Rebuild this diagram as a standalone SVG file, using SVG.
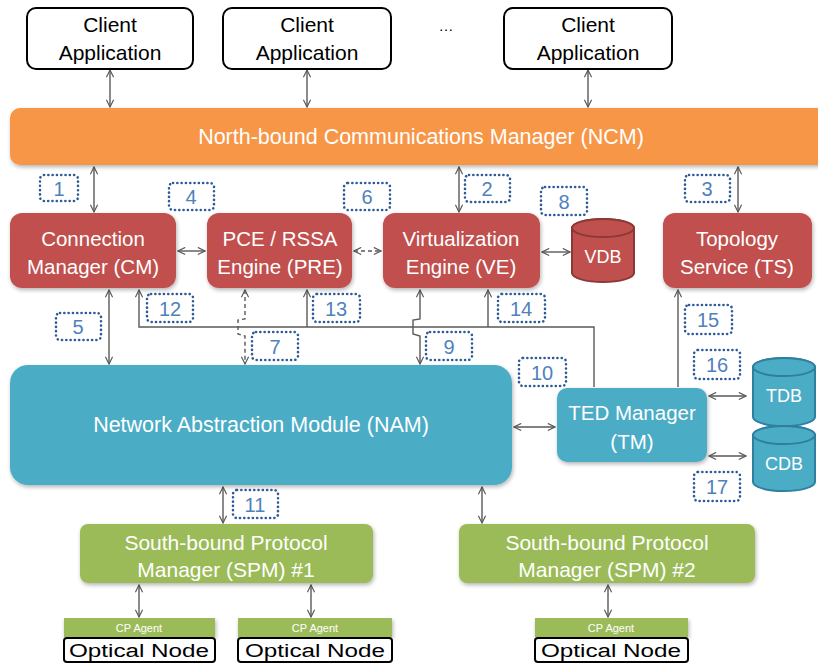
<svg xmlns="http://www.w3.org/2000/svg" width="818" height="664" viewBox="0 0 818 664">
<defs>
<marker id="ah" viewBox="0 0 10 10" refX="9" refY="5" markerWidth="9" markerHeight="9" markerUnits="userSpaceOnUse" orient="auto-start-reverse">
<path d="M1,1 L9,5 L1,9" fill="none" stroke="#595959" stroke-width="1.3"/>
</marker>
<filter id="sh" x="-10%" y="-10%" width="120%" height="130%">
<feGaussianBlur in="SourceAlpha" stdDeviation="2"/>
<feOffset dx="1" dy="2"/>
<feComponentTransfer><feFuncA type="linear" slope="0.3"/></feComponentTransfer>
<feMerge><feMergeNode/><feMergeNode in="SourceGraphic"/></feMerge>
</filter>
</defs>
<style>
text{font-family:"Liberation Sans",Arial,sans-serif;text-anchor:middle;}
.client{fill:#fff;stroke:#000;stroke-width:2;}
.ct{fill:#000;font-size:21px;}
.wt{fill:#fff;font-size:20.5px;}
.red{fill:#C0504D;filter:url(#sh);}
.blue{fill:#4BACC6;filter:url(#sh);}
.green{fill:#9BBB59;filter:url(#sh);}
.orange{fill:#F79646;filter:url(#sh);}
.lbl{fill:none;stroke:#2E5C9A;stroke-width:2.6;stroke-dasharray:0.1 4.2;stroke-linecap:round;}
.lt{fill:#4F81BD;font-size:20px;}
.c{fill:none;stroke:#595959;stroke-width:1.4;}
.cd{fill:none;stroke:#595959;stroke-width:1.4;stroke-dasharray:4 3;}
.cyl-r{fill:#C0504D;stroke:#8C3836;stroke-width:2;}
.cyl-b{fill:#4BACC6;stroke:#2F7FA0;stroke-width:2;}
.opt{fill:#fff;stroke:#000;stroke-width:2;}
.ot{fill:#000;font-size:18px;}
.cp{fill:#fff;font-size:11px;}
</style>

<g id="connectors">
<line class="c" x1="110" y1="70" x2="110" y2="107" marker-start="url(#ah)" marker-end="url(#ah)"/>
<line class="c" x1="307" y1="70" x2="307" y2="107" marker-start="url(#ah)" marker-end="url(#ah)"/>
<line class="c" x1="588" y1="70" x2="588" y2="107" marker-start="url(#ah)" marker-end="url(#ah)"/>
<line class="c" x1="94" y1="167" x2="94" y2="212" marker-start="url(#ah)" marker-end="url(#ah)"/>
<line class="c" x1="459" y1="167" x2="459" y2="212" marker-start="url(#ah)" marker-end="url(#ah)"/>
<line class="c" x1="738" y1="167" x2="738" y2="212" marker-start="url(#ah)" marker-end="url(#ah)"/>
<line class="c" x1="178" y1="251" x2="205" y2="251" marker-start="url(#ah)" marker-end="url(#ah)"/>
<line class="cd" x1="354" y1="251" x2="381" y2="251" marker-start="url(#ah)" marker-end="url(#ah)"/>
<line class="c" x1="542" y1="252" x2="570" y2="252" marker-start="url(#ah)" marker-end="url(#ah)"/>
<line class="c" x1="109" y1="290" x2="109" y2="364" marker-start="url(#ah)" marker-end="url(#ah)"/>
<polyline class="c" points="139,290 139,327 594,327 594,387" marker-start="url(#ah)"/>
<line class="c" x1="307" y1="327" x2="307" y2="290" marker-end="url(#ah)"/>
<line class="c" x1="488" y1="327" x2="488" y2="290" marker-end="url(#ah)"/>
<line class="c" x1="678" y1="387" x2="678" y2="290" marker-end="url(#ah)"/>
<polyline class="cd" points="245,290 245,319 238,320 238,334 245,336 245,364" marker-start="url(#ah)" marker-end="url(#ah)"/>
<polyline class="c" points="420,290 420,319 413,320 413,334 420,336 420,364" marker-start="url(#ah)" marker-end="url(#ah)"/>
<line class="c" x1="514" y1="427" x2="555" y2="427" marker-start="url(#ah)" marker-end="url(#ah)"/>
<line class="c" x1="709" y1="396" x2="746" y2="396" marker-start="url(#ah)" marker-end="url(#ah)"/>
<line class="c" x1="709" y1="456" x2="746" y2="456" marker-start="url(#ah)" marker-end="url(#ah)"/>
<line class="c" x1="223" y1="487" x2="223" y2="523" marker-start="url(#ah)" marker-end="url(#ah)"/>
<line class="c" x1="482" y1="487" x2="482" y2="523" marker-start="url(#ah)" marker-end="url(#ah)"/>
<line class="c" x1="139" y1="585" x2="139" y2="617" marker-start="url(#ah)" marker-end="url(#ah)"/>
<line class="c" x1="311" y1="585" x2="311" y2="617" marker-start="url(#ah)" marker-end="url(#ah)"/>
<line class="c" x1="608" y1="585" x2="608" y2="617" marker-start="url(#ah)" marker-end="url(#ah)"/>
</g>

<g id="client1"><rect class="client" x="27" y="8" width="166" height="61" rx="9"/><text class="ct" x="110" y="32">Client</text><text class="ct" x="110" y="60">Application</text></g>
<g id="client2"><rect class="client" x="223" y="8" width="168" height="61" rx="9"/><text class="ct" x="307" y="32">Client</text><text class="ct" x="307" y="60">Application</text></g>
<g id="dots"><text class="ct" x="446" y="31" style="font-size:15px">…</text></g>
<g id="client3"><rect class="client" x="504" y="8" width="168" height="61" rx="9"/><text class="ct" x="588" y="32">Client</text><text class="ct" x="588" y="60">Application</text></g>

<g id="ncm"><rect class="orange" x="10" y="108" width="820" height="57" rx="10"/><text class="wt" x="421" y="144" style="font-size:21.5px">North-bound Communications Manager (NCM)</text></g>

<g id="cm"><rect class="red" x="10" y="213" width="166" height="75" rx="12"/><text class="wt" x="93" y="246">Connection</text><text class="wt" x="93" y="274">Manager (CM)</text></g>
<g id="pre"><rect class="red" x="207" y="213" width="145" height="75" rx="12"/><text class="wt" x="280" y="246">PCE / RSSA</text><text class="wt" x="280" y="274">Engine (PRE)</text></g>
<g id="ve"><rect class="red" x="383" y="213" width="157" height="75" rx="12"/><text class="wt" x="461" y="246">Virtualization</text><text class="wt" x="461" y="274">Engine (VE)</text></g>
<g id="vdb"><path class="cyl-r" d="M572,228 A31,9 0 0 1 634,228 V273 A31,9 0 0 1 572,273 Z"/><ellipse class="cyl-r" cx="603" cy="228" rx="31" ry="9"/><text class="wt" x="603" y="263" style="font-size:18px">VDB</text></g>
<g id="ts"><rect class="red" x="663" y="213" width="149" height="75" rx="12"/><text class="wt" x="737" y="246">Topology</text><text class="wt" x="737" y="274">Service (TS)</text></g>

<g id="nam"><rect class="blue" x="10" y="365" width="502" height="120" rx="18"/><text class="wt" x="261" y="432" style="font-size:21.5px">Network Abstraction Module (NAM)</text></g>
<g id="tm"><rect class="blue" x="557" y="388" width="150" height="74" rx="10"/><text class="wt" x="632" y="420">TED Manager</text><text class="wt" x="632" y="449">(TM)</text></g>
<g id="tdb"><path class="cyl-b" d="M753,367 A31,9 0 0 1 815,367 V417 A31,9 0 0 1 753,417 Z"/><ellipse class="cyl-b" cx="784" cy="367" rx="31" ry="9"/><text class="wt" x="784" y="402" style="font-size:18px">TDB</text></g>
<g id="cdb"><path class="cyl-b" d="M753,435 A31,9 0 0 1 815,435 V482 A31,9 0 0 1 753,482 Z"/><ellipse class="cyl-b" cx="784" cy="435" rx="31" ry="9"/><text class="wt" x="784" y="470" style="font-size:18px">CDB</text></g>

<g id="spm1"><rect class="green" x="80" y="524" width="293" height="59" rx="8"/><text class="wt" x="226" y="550" style="font-size:21px">South-bound Protocol</text><text class="wt" x="226" y="577" style="font-size:21px">Manager (SPM) #1</text></g>
<g id="spm2"><rect class="green" x="459" y="524" width="296" height="59" rx="8"/><text class="wt" x="607" y="550" style="font-size:21px">South-bound Protocol</text><text class="wt" x="607" y="577" style="font-size:21px">Manager (SPM) #2</text></g>

<g id="node1"><rect class="green" x="64" y="618" width="151" height="19"/><text class="cp" x="139" y="632">CP Agent</text><rect class="opt" x="64" y="638" width="151" height="24" rx="3"/><text class="ot" x="139" y="657" textLength="140" lengthAdjust="spacingAndGlyphs">Optical Node</text></g>
<g id="node2"><rect class="green" x="238" y="618" width="154" height="19"/><text class="cp" x="315" y="632">CP Agent</text><rect class="opt" x="238" y="638" width="154" height="24" rx="3"/><text class="ot" x="315" y="657" textLength="140" lengthAdjust="spacingAndGlyphs">Optical Node</text></g>
<g id="node3"><rect class="green" x="535" y="618" width="153" height="19"/><text class="cp" x="611" y="632">CP Agent</text><rect class="opt" x="535" y="638" width="153" height="24" rx="3"/><text class="ot" x="611" y="657" textLength="140" lengthAdjust="spacingAndGlyphs">Optical Node</text></g>

<g id="labels">
<rect class="lbl" x="40" y="175" width="38" height="26" rx="4"/><text class="lt" x="59" y="196">1</text>
<rect class="lbl" x="465" y="175" width="45" height="27" rx="4"/><text class="lt" x="487" y="196">2</text>
<rect class="lbl" x="685" y="175" width="45" height="27" rx="4"/><text class="lt" x="707" y="196">3</text>
<rect class="lbl" x="169" y="183" width="45" height="27" rx="4"/><text class="lt" x="191" y="204">4</text>
<rect class="lbl" x="56" y="313" width="45" height="27" rx="4"/><text class="lt" x="78" y="334">5</text>
<rect class="lbl" x="344" y="183" width="46" height="27" rx="4"/><text class="lt" x="367" y="204">6</text>
<rect class="lbl" x="252" y="332" width="46" height="28" rx="4"/><text class="lt" x="275" y="354">7</text>
<rect class="lbl" x="541" y="187" width="46" height="28" rx="4"/><text class="lt" x="564" y="209">8</text>
<rect class="lbl" x="426" y="332" width="46" height="28" rx="4"/><text class="lt" x="449" y="354">9</text>
<rect class="lbl" x="519" y="358" width="47" height="28" rx="4"/><text class="lt" x="542" y="380">10</text>
<rect class="lbl" x="233" y="490" width="45" height="28" rx="4"/><text class="lt" x="255" y="512">11</text>
<rect class="lbl" x="147" y="294" width="46" height="28" rx="4"/><text class="lt" x="170" y="316">12</text>
<rect class="lbl" x="313" y="294" width="47" height="28" rx="4"/><text class="lt" x="336" y="316">13</text>
<rect class="lbl" x="498" y="294" width="47" height="28" rx="4"/><text class="lt" x="521" y="316">14</text>
<rect class="lbl" x="685" y="305" width="47" height="29" rx="4"/><text class="lt" x="708" y="327">15</text>
<rect class="lbl" x="694" y="350" width="46" height="29" rx="4"/><text class="lt" x="717" y="372">16</text>
<rect class="lbl" x="694" y="472" width="46" height="29" rx="4"/><text class="lt" x="717" y="494">17</text>
</g>
</svg>
